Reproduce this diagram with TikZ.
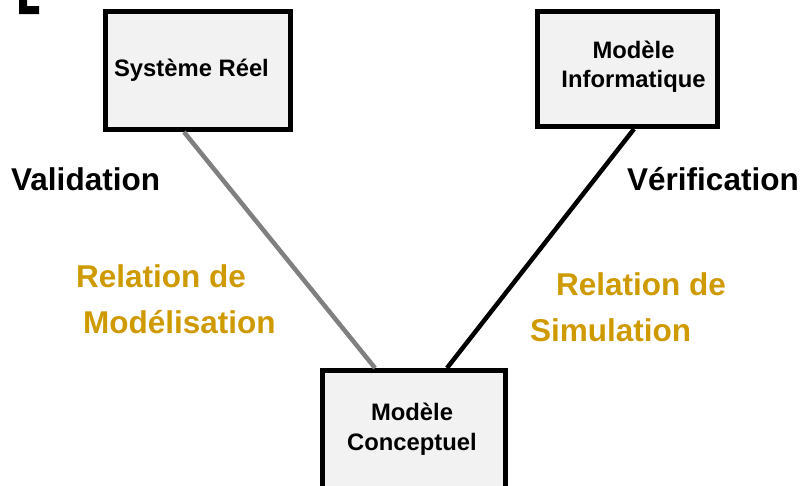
\documentclass[tikz,border=0pt]{standalone}
\usepackage{fontspec}
\setmainfont{Liberation Sans}
\definecolor{boxfill}{RGB}{242,242,242}
\definecolor{relcolor}{RGB}{206,154,0}
\definecolor{linkgray}{RGB}{128,128,128}
\begin{document}
\begin{tikzpicture}[x=1pt,y=-1pt,
  modelbox/.style={draw=black, line width=5pt, fill=boxfill, inner sep=0pt},
  boxtext/.style={anchor=base, inner sep=0pt,
    font=\fontsize{23.8}{29}\selectfont\bfseries},
  biglabel/.style={anchor=base west, inner sep=0pt,
    font=\fontsize{31.5}{36}\selectfont\bfseries},
  rellabel/.style={biglabel, text=relcolor},
  link/.style={line width=4.5pt}
]
\useasboundingbox (0,0) rectangle (802,485);

% corner mark
\fill (19,0) -- (27,0) -- (27,6) -- (39,6) -- (39,14) -- (19,14) -- cycle;

% the three models
\node[modelbox, minimum width=185pt, minimum height=118pt] (sr) at (198,70.5) {};
\node[modelbox, minimum width=180pt, minimum height=115pt] (mi) at (627.5,69) {};
\node[modelbox, minimum width=183pt, minimum height=119pt] (mc) at (414,430) {};

\node[boxtext] (sr-a) at (191.5,76) {Système Réel};
\node[boxtext] (mi-a) at (633.5,58) {Modèle};
\node[boxtext] (mi-b) at (633.5,87) {Informatique};
\node[boxtext] (mc-a) at (412,420) {Modèle};
\node[boxtext] (mc-b) at (412,450) {Conceptuel};

% relations
\draw[link, draw=linkgray] ([xshift=-14pt]sr.south) -- ([xshift=-39pt]mc.north);
\draw[link, draw=black] ([xshift=6.5pt]mi.south) -- ([xshift=33pt]mc.north);

% labels
\node[biglabel] (val) at (11,190) {Validation};
\node[biglabel] (ver) at (627,190) {Vérification};
\node[rellabel] (rm1) at (76,287) {Relation de};
\node[rellabel] (rm2) at (83,333) {Modélisation};
\node[rellabel] (rs1) at (556,295) {Relation de};
\node[rellabel] (rs2) at (530,341) {Simulation};
\end{tikzpicture}
\end{document}
